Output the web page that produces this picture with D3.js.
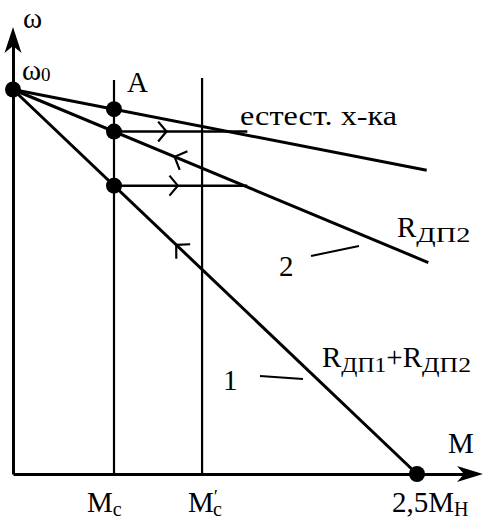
<!DOCTYPE html>
<html>
<head>
<meta charset="utf-8">
<script src="https://cdn.jsdelivr.net/npm/d3@7"></script>
<style>
  html, body { margin: 0; padding: 0; background: #fff; }
  svg { display: block; }
  text { font-family: "Liberation Serif", "Times New Roman", serif; fill: #000; }
</style>
</head>
<body>
<script>
// Speed–torque characteristics of a DC motor with two-stage starting resistance.
// Torque in units of rated torque Mн, speed relative to ideal no-load speed ω0.

const omega0 = 1;
const Mc = 0.625;          // static load torque
const McPrime = 1.17;      // increased load torque
const Mswitch = 1.45;      // switching torque between starting stages

const curveKeys = ["natural", "rdp2", "rdp12"];
const curveEndTorque = [2.56, 2.57, 2.5];
const curveEndSpeed = [0.79, 0.55, 0];

// tick labels on the torque axis
const tickValues = [Mc, McPrime, 2.5];
const tickMain = ["M", "M", "2,5M"];
const tickSub = ["c", "c", "Н"];
const tickPrime = [false, true, false];

// direction markers along the start-up path (torque at which each sits)
const arrowUpperStep = 0.95;
const arrowLowerStep = 1.02;
const arrowOnRdp2 = 1.0;
const arrowOnRdp12 = 1.01;

const W = 483, H = 518;
const svg = d3.select("body").append("svg").attr("width", W).attr("height", H);

const x = d3.scaleLinear().domain([0, 2.5]).range([13, 417]);
const y = d3.scaleLinear().domain([0, 1]).range([474, 89.5]);

const speedOn = (i, m) => omega0 + (curveEndSpeed[i] - omega0) * m / curveEndTorque[i];

// axes: plain domain lines, arrowheads added separately
const xAxisScale = d3.scaleLinear().domain([0, 1]).range([x(0), 470]);
svg.append("g").attr("transform", `translate(0,${y(0)})`)
  .call(d3.axisBottom(xAxisScale).tickValues([]).tickSizeOuter(0))
  .call(g => g.select(".domain").attr("stroke", "#000").attr("stroke-width", 3));
const yAxisScale = d3.scaleLinear().domain([0, 1]).range([y(0), 40]);
svg.append("g").attr("transform", `translate(${x(0)},0)`)
  .call(d3.axisLeft(yAxisScale).tickValues([]).tickSizeOuter(0))
  .call(g => g.select(".domain").attr("stroke", "#000").attr("stroke-width", 3));

// notched arrowheads
const ax0 = x(0), ay0 = y(0);
svg.append("path").attr("fill", "#000")
  .attr("d", `M${ax0},27 L${ax0 + 8.5},53 L${ax0},46 L${ax0 - 8.5},53 Z`);
svg.append("path").attr("fill", "#000")
  .attr("d", `M483,${ay0} L457,${ay0 - 8} L464,${ay0} L457,${ay0 + 8} Z`);

// vertical load lines
const verticalTop = [1.025, 1.03];
[Mc, McPrime].forEach((m, i) => {
  svg.append("line")
    .attr("x1", x(m)).attr("x2", x(m))
    .attr("y1", y(verticalTop[i])).attr("y2", y(0))
    .attr("stroke", "#000").attr("stroke-width", 2.2);
});

// characteristics
const lineGen = d3.line().x(d => x(d[0])).y(d => y(d[1]));
curveKeys.forEach((k, i) => {
  svg.append("path")
    .datum([[0, omega0], [curveEndTorque[i], curveEndSpeed[i]]])
    .attr("d", lineGen)
    .attr("fill", "none").attr("stroke", "#000").attr("stroke-width", 3);
});

// horizontal switching steps
const stepSpeeds = [speedOn(1, Mc), speedOn(2, Mc)];
stepSpeeds.forEach(w => {
  svg.append("path")
    .datum([[Mc, w], [Mswitch, w]])
    .attr("d", lineGen)
    .attr("fill", "none").attr("stroke", "#000").attr("stroke-width", 2.5);
});

// chevron markers
function chevron(px, py, dx, dy, len, half) {
  const n = Math.hypot(dx, dy); dx /= n; dy /= n;
  const bx = -dx, by = -dy;
  const rot = a => [bx * Math.cos(a) - by * Math.sin(a), bx * Math.sin(a) + by * Math.cos(a)];
  const a1 = rot(half), a2 = rot(-half);
  svg.append("path")
    .attr("d", `M${px + a1[0] * len},${py + a1[1] * len} L${px},${py} L${px + a2[0] * len},${py + a2[1] * len}`)
    .attr("fill", "none").attr("stroke", "#000").attr("stroke-width", 2.2);
}
chevron(x(arrowUpperStep), y(stepSpeeds[0]), 1, 0, 13, 50 * Math.PI / 180);
chevron(x(arrowLowerStep), y(stepSpeeds[1]), 1, 0, 13, 50 * Math.PI / 180);
[[1, arrowOnRdp2], [2, arrowOnRdp12]].forEach(([i, m]) => {
  const px = x(m), py = y(speedOn(i, m));
  const dx = x(0) - x(curveEndTorque[i]), dy = y(omega0) - y(curveEndSpeed[i]);
  chevron(px, py, dx, dy, 14, 46 * Math.PI / 180);
});

// points: ω0, A and step starts, 2.5Mн
const dots = [
  [0, omega0],
  [Mc, speedOn(0, Mc)],
  [Mc, stepSpeeds[0]],
  [Mc, stepSpeeds[1]],
  [2.5, 0]
];
svg.selectAll("circle.pt").data(dots).join("circle")
  .attr("class", "pt")
  .attr("cx", d => x(d[0])).attr("cy", d => y(d[1]))
  .attr("r", 8).attr("fill", "#000");

// leader lines for curve numbers
const leaders = [[311, 256, 359, 246], [260, 376, 303, 379]];
leaders.forEach(l => {
  svg.append("line").attr("x1", l[0]).attr("y1", l[1]).attr("x2", l[2]).attr("y2", l[3])
    .attr("stroke", "#000").attr("stroke-width", 2);
});

// text helpers
function txt(tx, ty, s, size = 29, width = null) {
  const t = svg.append("text").attr("x", tx).attr("y", ty).attr("font-size", size).text(s);
  if (width) t.attr("textLength", width).attr("lengthAdjust", "spacingAndGlyphs");
  return t;
}
// a run of main / subscript pieces laid out left to right
function run(tx, ty, pieces) {
  let cx = tx;
  pieces.forEach(p => {
    const t = txt(cx, ty + (p.dy || 0), p.s, p.size || 29, p.w || null);
    cx += p.w || t.node().getComputedTextLength();
  });
}

txt(23, 28, "ω");
run(22, 80, [{ s: "ω" }, { s: "0", size: 19, dy: 1 }]);
txt(127, 92, "A");
txt(240, 125, "естест. х-ка", 28, 157);
run(397, 237, [{ s: "R" }, { s: "ДП2", size: 20, dy: 5, w: 54 }]);
txt(279, 276, "2");
run(322, 367, [
  { s: "R" },
  { s: "ДП1", size: 20, dy: 5, w: 45 },
  { s: "+R" },
  { s: "ДП2", size: 20, dy: 5, w: 49 }
]);
txt(223, 390, "1");
txt(448, 453, "M");

// torque-axis tick labels
const tickStart = [87, 188, 392];
tickValues.forEach((v, i) => {
  const t = svg.append("text").attr("x", tickStart[i]).attr("y", 512).attr("font-size", 29);
  t.append("tspan").text(tickMain[i]);
  if (tickPrime[i]) {
    t.append("tspan").attr("font-size", 19).attr("dy", -9).text("′");
    t.append("tspan").attr("font-size", 20).attr("dx", -5).attr("dy", 13).text(tickSub[i]);
  } else {
    t.append("tspan").attr("font-size", 20).attr("dy", 4).text(tickSub[i]);
  }
});
</script>
</body>
</html>
